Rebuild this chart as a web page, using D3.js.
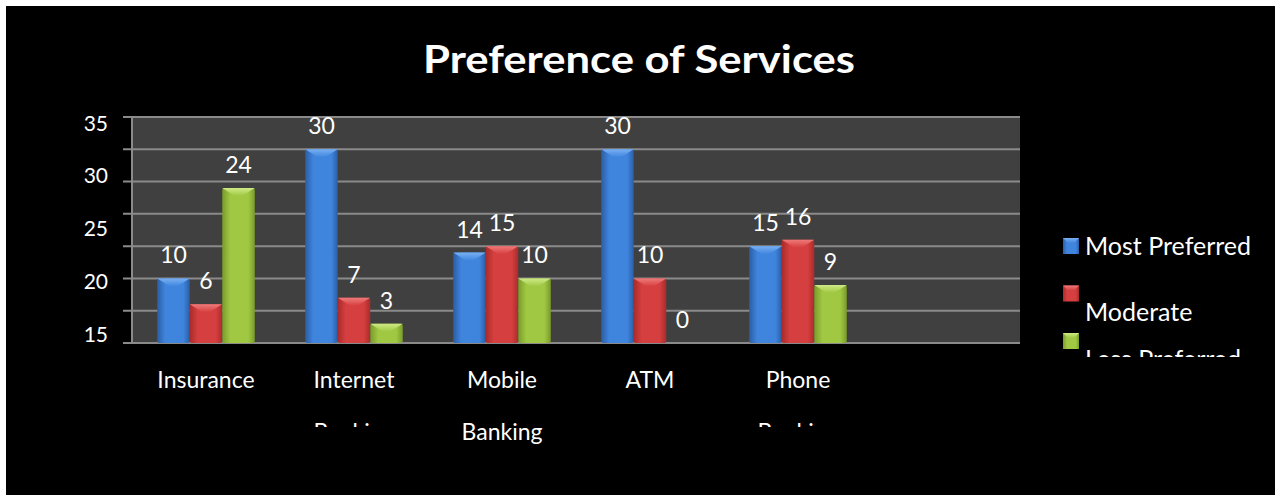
<!DOCTYPE html>
<html>
<head>
<meta charset="utf-8">
<script src="https://cdn.jsdelivr.net/npm/d3@7"></script>
<style>
  body { margin: 0; background: #fff; }
  text { font-family: Lato, "Open Sans", sans-serif; fill: #fff; }
</style>
</head>
<body>
<div id="chart"></div>
<script>
// Preference of services - clustered 3d-ish column chart
const categories = ["Insurance", "Internet Banking", "Mobile Banking", "ATM", "Phone Banking"];
const series = ["Most Preferred", "Moderate", "Less Preferred"];
const mostPreferred = [10, 30, 14, 30, 15];
const moderate = [6, 7, 15, 10, 16];
const lessPreferred = [24, 3, 10, 0, 9];
const yTickLabels = ["35", "30", "25", "20", "15"];

const W = 1275, H = 495;
const plot = {left: 132, right: 1020, top: 117, bottom: 343};

const values = [mostPreferred, moderate, lessPreferred];
const colors = [
  {edge: "#2b5ea6", mid: "#3f85de", bevel: "#79b0f2"},
  {edge: "#a92b2b", mid: "#d63f3f", bevel: "#f07a7a"},
  {edge: "#7a9b2a", mid: "#a0c843", bevel: "#cfea86"}
];

const svg = d3.select("#chart").append("svg")
  .attr("width", W).attr("height", H);

svg.append("rect").attr("x", 6).attr("y", 6)
  .attr("width", W - 6).attr("height", H - 6).attr("fill", "#000");

const defs = svg.append("defs");
colors.forEach(function(c, i) {
  const g = defs.append("linearGradient").attr("id", "bar" + i)
    .attr("x1", "0").attr("x2", "1").attr("y1", "0").attr("y2", "0");
  g.append("stop").attr("offset", "0%").attr("stop-color", c.edge);
  g.append("stop").attr("offset", "25%").attr("stop-color", c.mid);
  g.append("stop").attr("offset", "80%").attr("stop-color", c.mid);
  g.append("stop").attr("offset", "100%").attr("stop-color", c.edge);
  const b = defs.append("linearGradient").attr("id", "bevel" + i)
    .attr("x1", "0").attr("x2", "0").attr("y1", "0").attr("y2", "1");
  b.append("stop").attr("offset", "0%").attr("stop-color", c.bevel);
  b.append("stop").attr("offset", "100%").attr("stop-color", c.mid);
});

// title
svg.append("text")
  .attr("x", 639).attr("y", 73)
  .attr("text-anchor", "middle")
  .style("font-size", "39px").style("font-weight", "bold")
  .attr("textLength", 432).attr("lengthAdjust", "spacingAndGlyphs")
  .text("Preference of Services");

// scales
const y = d3.scaleLinear().domain([0, 35]).range([plot.bottom, plot.top]);
const x0 = d3.scaleBand()
  .domain(categories.concat([""]))
  .range([plot.left, plot.right])
  .paddingInner(0.341).paddingOuter(0.1705);
const x1 = d3.scaleBand().domain(series).range([0, x0.bandwidth()]);

// plot area + gridlines
svg.append("rect")
  .attr("x", plot.left).attr("y", plot.top)
  .attr("width", plot.right - plot.left).attr("height", plot.bottom - plot.top)
  .attr("fill", "#404040");

svg.append("g").selectAll("line")
  .data(y.ticks(7))
  .enter().append("line")
  .attr("x1", plot.left - 9).attr("x2", plot.right)
  .attr("y1", d => y(d)).attr("y2", d => y(d))
  .attr("stroke", "#8a8a8a").attr("stroke-width", 2);

svg.append("line")
  .attr("x1", plot.left).attr("x2", plot.left)
  .attr("y1", plot.top).attr("y2", plot.bottom)
  .attr("stroke", "#8a8a8a").attr("stroke-width", 2);

// y tick labels (spread as in the source render)
const yLab = d3.scalePoint().domain(yTickLabels).range([122, 333]);
svg.append("g").selectAll("text")
  .data(yTickLabels)
  .enter().append("text")
  .attr("x", 108).attr("y", d => yLab(d))
  .attr("text-anchor", "end").attr("dominant-baseline", "central")
  .style("font-size", "21px")
  .text(d => d);

// bars
const groups = svg.append("g").selectAll("g")
  .data(categories)
  .enter().append("g")
  .attr("transform", d => "translate(" + x0(d) + ",0)");

const bars = groups.selectAll("g")
  .data((d, ci) => series.map((s, si) => ({s: s, si: si, v: values[si][ci]})))
  .enter().append("g");

bars.filter(d => d.v > 0).append("rect")
  .attr("x", d => x1(d.s))
  .attr("y", d => y(d.v))
  .attr("width", x1.bandwidth())
  .attr("height", d => y(0) - y(d.v))
  .attr("rx", 2)
  .attr("fill", d => "url(#bar" + d.si + ")");

bars.filter(d => d.v > 0).append("path")
  .attr("d", function(d) {
    const bx = x1(d.s), bw = x1.bandwidth(), by = y(d.v);
    const bh = Math.min(8, (y(0) - by) / 2);
    return "M" + bx + "," + by + "L" + (bx + bw) + "," + by +
      "L" + (bx + bw - bh * 1.6) + "," + (by + bh) +
      "L" + (bx + bh * 1.6) + "," + (by + bh) + "Z";
  })
  .attr("fill", d => "url(#bevel" + d.si + ")");

bars.append("text")
  .attr("x", d => x1(d.s) + x1.bandwidth() / 2)
  .attr("y", d => y(d.v) - 24)
  .attr("text-anchor", "middle").attr("dominant-baseline", "central")
  .style("font-size", "23px")
  .text(d => d.v);

// category labels, centred under each group
defs.append("clipPath").attr("id", "cutLine")
  .append("rect").attr("x", 0).attr("y", 0).attr("width", W).attr("height", 427);

const cat = svg.append("g").selectAll("g")
  .data(categories)
  .enter().append("g");

cat.append("text")
  .attr("x", d => x0(d) + x0.bandwidth() / 2).attr("y", 388)
  .attr("text-anchor", "middle")
  .style("font-size", "23px")
  .text(d => d.split(" ")[0]);

cat.filter(d => d.indexOf(" ") > 0).append("text")
  .attr("x", d => x0(d) + x0.bandwidth() / 2).attr("y", 440)
  .attr("text-anchor", "middle")
  .style("font-size", "23px")
  .attr("clip-path", d => d === "Mobile Banking" ? null : "url(#cutLine)")
  .text(d => d.split(" ")[1]);

// legend
defs.append("clipPath").attr("id", "legClip")
  .append("rect").attr("x", 0).attr("y", 0).attr("width", W).attr("height", 357);

const legY = d3.scalePoint().domain(series).range([238, 333]);
const leg = svg.append("g").attr("clip-path", "url(#legClip)")
  .selectAll("g").data(series)
  .enter().append("g");

leg.append("rect")
  .attr("x", 1063).attr("y", d => legY(d))
  .attr("width", 16).attr("height", 16)
  .attr("fill", (d, i) => "url(#bar" + i + ")");
leg.append("path")
  .attr("d", d => "M1063," + legY(d) + "L1079," + legY(d) + "L1074," + (legY(d) + 5) + "L1068," + (legY(d) + 5) + "Z")
  .attr("fill", (d, i) => "url(#bevel" + i + ")");

leg.append("text")
  .attr("x", 1085)
  .attr("y", (d, i) => i === 0 ? legY(d) + 17 : legY(d) + 35)
  .style("font-size", "25px")
  .text(d => d);
</script>
</body>
</html>
